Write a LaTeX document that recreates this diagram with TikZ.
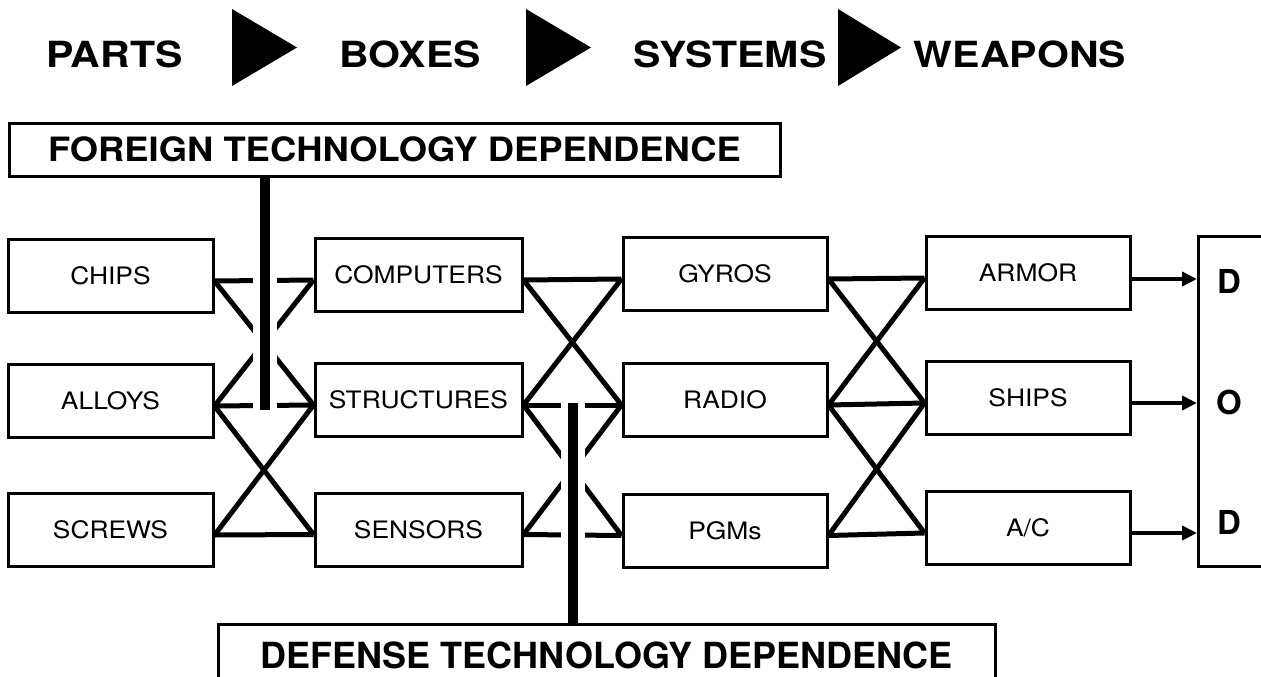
\documentclass[tikz,border=0pt]{standalone}
\usepackage{fontspec}
\setmainfont{TeX Gyre Heros}
\newfontfamily\lblfont[FakeStretch=1.1]{TeX Gyre Heros}
\newfontfamily\hdrfont[FakeStretch=1.14]{TeX Gyre Heros}
\newfontfamily\ttlfont[FakeStretch=1.086]{TeX Gyre Heros}
\usetikzlibrary{arrows.meta}
\begin{document}
\begin{tikzpicture}[x=1pt,y=-1pt,
  box/.style={draw, line width=3pt, inner sep=0pt, minimum height=73pt,
    font=\lblfont\fontsize{24}{28}\selectfont},
  cA/.style={box, minimum width=205pt},
  cB/.style={box, minimum width=207pt},
  cC/.style={box, minimum width=204pt},
  cD/.style={box, minimum width=204pt},
  hdr/.style={font=\hdrfont\bfseries\fontsize{36}{40}\selectfont, inner sep=0pt},
  conn/.style={line width=5pt},
  knock/.style={white, line width=24pt},
  bar/.style={line width=10pt},
  arr/.style={line width=4.5pt, -{Triangle[length=15pt,width=14pt]}},
  dodletter/.style={font=\bfseries\fontsize{33}{40}\selectfont, inner sep=0pt}]
\useasboundingbox (0,0) rectangle (1261,677);

% header row
\node[hdr] (parts) at (114.5,54.5) {PARTS};
\fill (232,9) -- (232,86) -- (297,47.5) -- cycle;
\node[hdr] (boxes) at (410,54.5) {BOXES};
\fill (526,9) -- (526,86) -- (591,47.5) -- cycle;
\node[hdr] (systems) at (730,54.5) {SYSTEMS};
\fill (838,9) -- (838,86) -- (901,47.5) -- cycle;
\node[hdr] (weapons) at (1020,54.5) {WEAPONS};

% title boxes
\node[draw, line width=3pt, minimum width=771pt, minimum height=53pt, inner sep=0pt,
  font=\ttlfont\bfseries\fontsize{33.5}{40}\selectfont] (foreign) at (394.5,149.5)
  {FOREIGN TECHNOLOGY DEPENDENCE};
\node[draw, line width=3pt, minimum width=777pt, minimum height=62pt, inner sep=0pt,
  anchor=north, font=\bfseries\fontsize{36}{40}\selectfont] (defense) at (606.5,623)
  {DEFENSE TECHNOLOGY DEPENDENCE};

% boxes
\node[cA] (chips)  at (110.5,276) {CHIPS};
\node[cA] (alloys) at (110.5,401) {ALLOYS};
\node[cA] (screws) at (110.5,530) {SCREWS};
\node[cB] (comp)   at (418.5,275) {COMPUTERS};
\node[cB] (struct) at (418.5,400) {STRUCTURES};
\node[cB] (sens)   at (418.5,529.5) {SENSORS};
\node[cC] (gyros)  at (725,274) {GYROS};
\node[cC] (radio)  at (725,400) {RADIO};
\node[cC] (pgms)   at (725,530.5) {PGMs};
\node[cD] (armor)  at (1028,273) {ARMOR};
\node[cD] (ships)  at (1028,398) {SHIPS};
\node[cD] (ac)     at (1028,528) {A/C};

% DOD box
\node[draw, line width=3pt, inner sep=0pt, minimum width=120pt, minimum height=330pt,
  anchor=north west] (dod) at (1197,235) {};
\node[dodletter] (d1) at (1229,281) {D};
\node[dodletter] (o1) at (1229,402) {O};
\node[dodletter] (d2) at (1229,522) {D};

% connectors
\foreach \a/\b in {chips/comp, chips/struct, alloys/comp, alloys/struct, alloys/sens,
  screws/struct, screws/sens, comp/gyros, comp/radio, struct/gyros, struct/radio,
  struct/pgms, sens/radio, sens/pgms, gyros/armor, gyros/ships, radio/armor,
  radio/ships, radio/ac, pgms/ships, pgms/ac}
  \draw[conn] ([yshift=-5pt]\a.east) -- ([yshift=-5pt]\b.west);

% dependence bars
\coordinate (b1end) at (265,410);
\coordinate (b2top) at (573,403);
\draw[knock] ([yshift=-4pt]foreign.south -| b1end) -- ([yshift=-3pt]b1end);
\draw[bar] (foreign.south -| b1end) -- (b1end);
\draw[knock] ([yshift=6pt]b2top) -- ([yshift=3pt]b2top |- defense.north);
\draw[bar] (b2top) -- (b2top |- defense.north);

% arrows to DOD
\coordinate (armorR) at ([yshift=-6pt]armor.east);
\coordinate (shipsR) at ([yshift=-5pt]ships.east);
\coordinate (acR)    at ([yshift=-5pt]ac.east);
\draw[arr] (armorR) -- (armorR -| dod.west);
\draw[arr] (shipsR) -- (shipsR -| dod.west);
\draw[arr] (acR) -- (acR -| dod.west);
\end{tikzpicture}
\end{document}
